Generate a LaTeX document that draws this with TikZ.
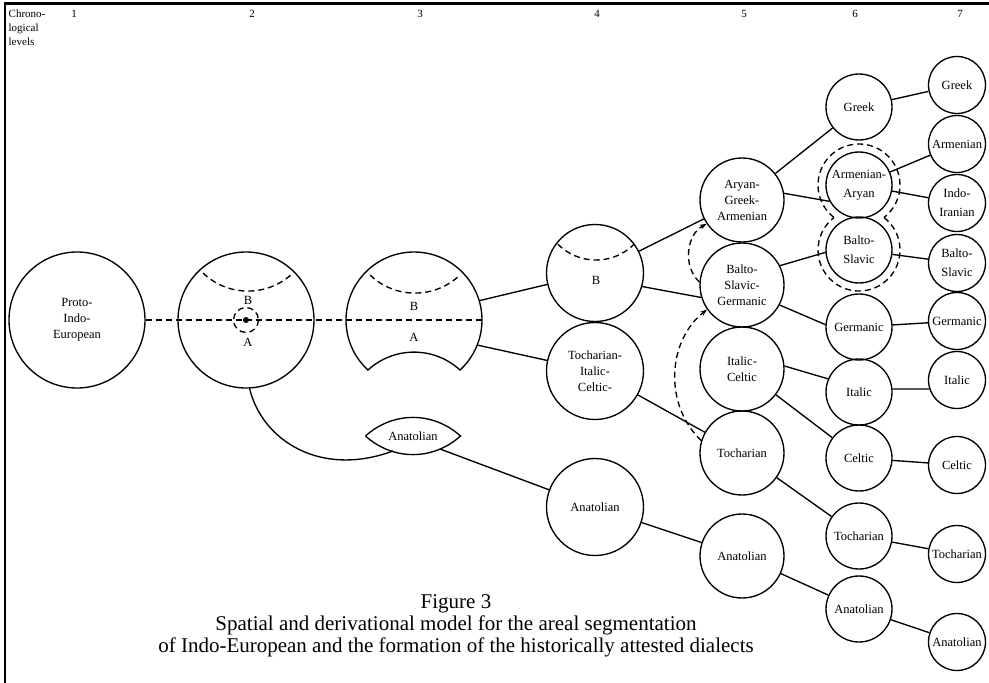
\documentclass[tikz,border=0pt]{standalone}
\usepackage{fontspec}
\setmainfont{Liberation Serif}
\usetikzlibrary{arrows.meta}

\begin{document}
\begin{tikzpicture}[x=1pt, y=-1pt, line width=1.35pt,
  lang/.style={circle, draw, inner sep=0pt, align=center, font=\fontsize{12.5}{16}\selectfont},
  big/.style={lang, minimum size=136pt},
  lv4/.style={lang, minimum size=97pt},
  lv5/.style={lang, minimum size=84pt},
  lv6/.style={lang, minimum size=66pt},
  lv7/.style={lang, minimum size=57pt},
  lbl/.style={font=\fontsize{12.5}{16}\selectfont, inner sep=0pt},
  lvl/.style={font=\fontsize{11}{14}\selectfont},
  dsh/.style={dash pattern=on 6pt off 4pt}]
 \useasboundingbox (0,0) rectangle (989,683);
 % frame
 \draw[line width=2.5pt] (5,684) -- (5,3.5) -- (990,3.5);
 % chronological levels
 \node[lvl, anchor=north west, align=left, inner sep=0pt] (chrono) at (8,9) {Chrono-\\logical\\levels};
 \foreach \n/\x in {1/74, 2/252, 3/420, 4/597, 5/744, 6/855, 7/960}
   \node[lvl] (lev\n) at (\x,14) {\n};

 % levels 1--3
 \node[big] (pie) at (77,320) {Proto-\\Indo-\\European};
 \node[big] (ab2) at (246,320) {};
 \node[lbl] (b2) at (248,300) {B};
 \node[lbl] (a2) at (248,342) {A};
 \draw[dsh] (203,273) arc[start angle=133.8, end angle=46.2, radius=65];
 \draw[dsh] (ab2.center) circle[radius=12.5];
 \fill (ab2.center) circle[radius=3];
 \coordinate (ab3) at (414,320);
 \draw ([shift={(132.6:68)}]ab3) arc[start angle=132.6, end angle=407.4, radius=68]
   arc[start angle=-47.4, end angle=-132.6, radius=68] -- cycle;
 \draw[dsh] (370,275) arc[start angle=133.8, end angle=46.2, radius=65];
 \node[lbl] (b3) at (414,306) {B};
 \node[lbl] (a3) at (414,337) {A};
 \draw[dsh] (pie) -- ([xshift=68pt]ab3);

 % Anatolian split
 \node[lbl] (anat3) at (413,436) {Anatolian};
 \draw ([xshift=-47.5pt]anat3.center) to[bend left=42] ([xshift=47.5pt]anat3.center)
   to[bend left=42] ([xshift=-47.5pt]anat3.center);
 \coordinate (lensin) at (393,451);
 \coordinate (lensout) at (440,449);
 \draw (ab2.-87) .. controls (262,440) and (320,478) .. (lensin);

 % level 4
 \node[lv4] (b4) at (595,273) {};
 \node[lbl] (b4lbl) at (596,280) {B};
 \draw[dsh] (557.8,244.2) arc[start angle=135, end angle=45, radius=54];
 \node[lv4] (tic4) at (595,371) {Tocharian-\\Italic-\\Celtic-};
 \node[lv4] (anat4) at (595,507) {Anatolian};
 \draw ([shift={(-16.5:68)}]ab3) -- (b4);
 \draw ([shift={(21.6:68)}]ab3) -- (tic4);
 \draw (lensout) -- (anat4);

 % level 5
 \node[lv5] (aga5) at (742,200) {Aryan-\\Greek-\\Armenian};
 \node[lv5] (bsg5) at (742,285) {Balto-\\Slavic-\\Germanic};
 \node[lv5] (ic5) at (742,369) {Italic-\\Celtic};
 \node[lv5] (toch5) at (742,453) {Tocharian};
 \node[lv5] (anat5) at (742,556) {Anatolian};
 \draw (b4) -- (aga5);
 \draw (b4.-16) -- (bsg5.197);
 \draw (tic4) -- (toch5);
 \draw (anat4) -- (anat5);
 \draw[dsh, -{Stealth[length=7pt, width=5pt]}] (toch5.163) to[bend left=49] (bsg5.215);
 \draw[dsh, -{Stealth[length=7pt, width=5pt]}] (bsg5.176) to[bend left=55] (aga5.214);

 % level 6
 \node[lv6] (greek6) at (859,107) {Greek};
 \node[lv6] (aa6) at (859,185) {Armenian-\\[3pt]Aryan};
 \node[lv6] (bs6) at (859,250) {Balto-\\[3pt]Slavic};
 \node[lv6] (germ6) at (859,327) {Germanic};
 \node[lv6] (ital6) at (859,392) {Italic};
 \node[lv6] (celt6) at (859,458) {Celtic};
 \node[lv6] (toch6) at (859,536) {Tocharian};
 \node[lv6] (anat6) at (859,609) {Anatolian};
 \draw[dsh] ([shift={(127.6:41)}]aa6.center) arc[start angle=127.6, end angle=412.4, radius=41];
 \draw[dsh] ([shift={(-52.4:41)}]bs6.center) arc[start angle=-52.4, end angle=232.4, radius=41];
 \draw (aga5) -- (greek6);
 \draw (aga5.9) -- (aa6.209);
 \draw (bsg5.27) -- (bs6.184);
 \draw (bsg5.-28) -- (germ6.176);
 \draw (ic5.4) -- (ital6.157);
 \draw (ic5) -- (celt6);
 \draw (toch5) -- (toch6);
 \draw (anat5) -- (anat6);

 % level 7
 \node[lv7] (greek7) at (957,85) {Greek};
 \node[lv7] (arm7) at (957,144) {Armenian};
 \node[lv7] (indo7) at (957,203) {Indo-\\[3pt]Iranian};
 \node[lv7] (bs7) at (957,263) {Balto-\\[3pt]Slavic};
 \node[lv7] (germ7) at (957,321) {Germanic};
 \node[lv7] (ital7) at (957,380) {Italic};
 \node[lv7] (celt7) at (957,465) {Celtic};
 \node[lv7] (toch7) at (957,554) {Tocharian};
 \node[lv7] (anat7) at (957,642) {Anatolian};
 \draw (greek6) -- (greek7);
 \draw (aa6) -- (arm7);
 \draw (aa6) -- (indo7);
 \draw (bs6) -- (bs7);
 \draw (germ6) -- (germ7);
 \draw (ital6.5) -- (ital7.198);
 \draw (celt6) -- (celt7);
 \draw (toch6) -- (toch7);
 \draw (anat6) -- (anat7);

 % caption
 \node[font=\fontsize{21}{22}\selectfont, align=center] (caption) at (456,626)
   {Figure 3\\Spatial and derivational model for the areal segmentation\\of Indo-European and the formation of the historically attested dialects};
\end{tikzpicture}
\end{document}
